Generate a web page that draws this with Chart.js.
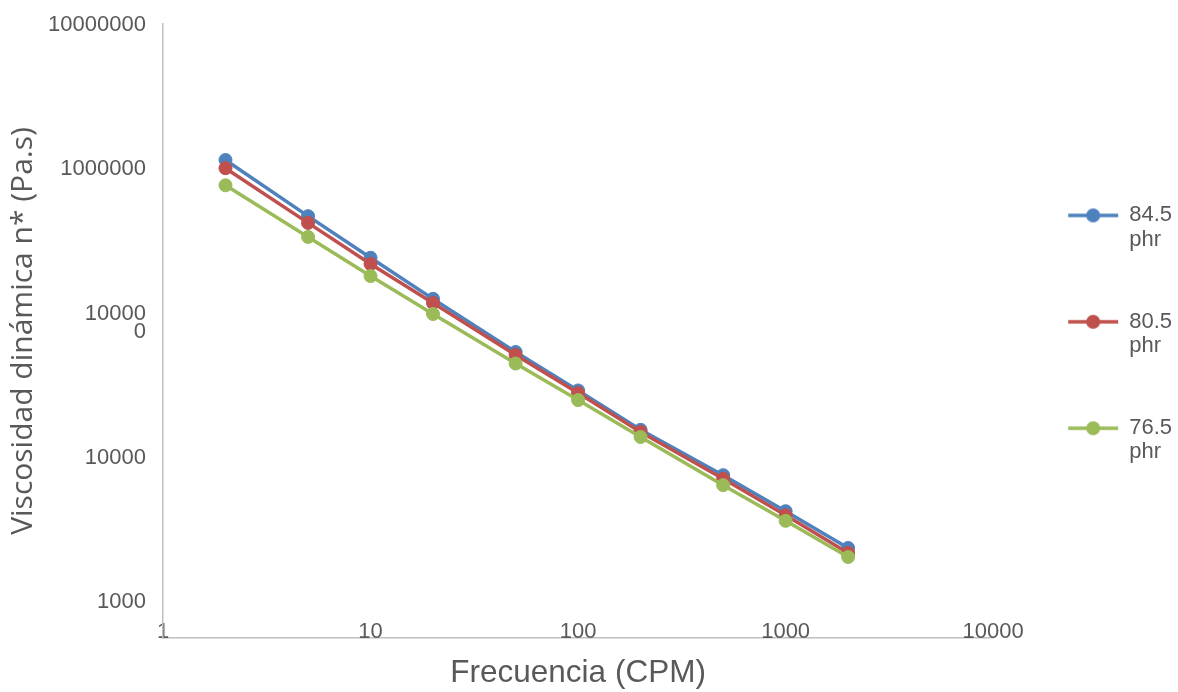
<!DOCTYPE html>
<html lang="es">
<head>
  <meta charset="UTF-8">
  <title>Viscosidad dinámica vs frecuencia</title>
  <script src="https://cdn.jsdelivr.net/npm/chart.js"></script>
  <style>
    body {
      margin: 0;
      background: #ffffff;
    }
    canvas {
      display: block;
    }
  </style>
</head>
<body>

  <canvas id="grafico" width="1178" height="692"></canvas>

  <script>
    // frecuencias medidas (CPM)
    const frecuencias = [2, 5, 10, 20, 50, 100, 200, 500, 1000, 2000];

    // viscosidad dinámica n* (Pa.s) por formulación
    const visc845 = [1300000, 560000, 300000, 162000, 73000, 41000, 22700, 11500, 6700, 3860];
    const visc805 = [1150000, 506000, 273000, 152000, 69800, 39400, 22000, 10900, 6300, 3580];
    const visc765 = [890000, 410000, 228000, 129000, 61400, 35500, 20400, 9900, 5800, 3370];

    const series = ['84.5 phr', '80.5 phr', '76.5 phr'];
    const colores = ['#4f81bd', '#c0504d', '#9bbb59'];

    // marcas de los ejes
    const xTicks = [1, 10, 100, 1000, 10000];
    const xTickLabels = ['1', '10', '100', '1000', '10000'];
    const yTicks = [1000, 10000, 100000, 1000000, 10000000];
    const yTickLabels = ['1000', '10000', '10000\n0', '1000000', '10000000'];

    const gris = '#595959';
    const fuente = "'Liberation Sans', Arial, sans-serif";

    // icono de leyenda: trazo con marcador redondo en medio
    function iconoLeyenda(color) {
      const c = document.createElement('canvas');
      c.width = 75;
      c.height = 18;
      const g = c.getContext('2d');
      g.strokeStyle = color;
      g.lineWidth = 3.5;
      g.beginPath();
      g.moveTo(21, 9);
      g.lineTo(71, 9);
      g.stroke();
      g.fillStyle = color;
      g.beginPath();
      g.arc(46, 9, 7, 0, Math.PI * 2);
      g.fill();
      return c;
    }

    const datos = [visc845, visc805, visc765];
    const datasets = datos.map((vals, i) => ({
      label: series[i],
      data: frecuencias.map((f, k) => ({ x: f, y: vals[k] })),
      borderColor: colores[i],
      backgroundColor: colores[i],
      pointBackgroundColor: colores[i],
      pointBorderColor: colores[i],
      borderWidth: 3.5,
      pointRadius: 6.5,
      pointBorderWidth: 1,
      tension: 0,
      order: datos.length - i // la última serie queda encima
    }));

    const etiquetasBase = Chart.defaults.plugins.legend.labels.generateLabels;

    new Chart(document.getElementById('grafico'), {
      type: 'line',
      data: { datasets },
      options: {
        responsive: false,
        animation: false,
        layout: {
          padding: { top: 24, left: 0, right: -4, bottom: 0 }
        },
        plugins: {
          tooltip: { enabled: false },
          legend: {
            position: 'right',
            fullSize: false,
            // título vacío: solo baja un poco el bloque de la leyenda
            title: { display: true, text: '', font: { size: 0 }, padding: { top: 8, bottom: 0 } },
            labels: {
              usePointStyle: true,
              pointStyleWidth: 67,
              padding: 58,
              color: gris,
              font: { family: fuente, size: 22, lineHeight: 1.1 },
              sort: (a, b) => a.datasetIndex - b.datasetIndex,
              generateLabels: chart => etiquetasBase(chart).map(item => ({
                ...item,
                text: item.text.split(' '),
                pointStyle: iconoLeyenda(item.strokeStyle)
              }))
            }
          }
        },
        scales: {
          x: {
            type: 'logarithmic',
            min: 1,
            max: 10000,
            afterBuildTicks: axis => { axis.ticks = xTicks.map(v => ({ value: v })); },
            afterFit: axis => { axis.height = 54; },
            grid: { display: false, drawTicks: false },
            border: { display: true, color: '#bfbfbf', width: 1.5 },
            ticks: {
              autoSkip: false,
              maxRotation: 0,
              mirror: true, // números apoyados sobre la línea del eje
              padding: -7,
              color: gris,
              font: { family: fuente, size: 22 },
              callback: (v, i) => xTickLabels[i]
            },
            title: {
              display: true,
              text: 'Frecuencia (CPM)',
              color: gris,
              font: { family: fuente, size: 31.5 },
              padding: { top: 10, bottom: 0 }
            }
          },
          y: {
            type: 'logarithmic',
            min: 1000,
            max: 10000000,
            afterBuildTicks: axis => { axis.ticks = yTicks.map(v => ({ value: v })); },
            afterFit: axis => {
              axis.width = 163;
              axis.paddingTop = 0;
              axis.paddingBottom = 0;
            },
            grid: { display: false, drawTicks: false },
            border: { display: true, color: '#bfbfbf', width: 1.5 },
            ticks: {
              padding: 17,
              labelOffset: 1,
              color: gris,
              font: { family: fuente, size: 22, lineHeight: 0.84 },
              // líneas vacías al final: cuanto más abajo, más sube el texto sobre su marca
              callback: (v, i) => {
                const lineas = yTickLabels[i].split('\n');
                const subir = yTicks.length - 1 - i;
                return lineas.concat(Array(subir + 1 - lineas.length).fill(''));
              }
            },
            title: {
              display: true,
              text: 'Viscosidad dinámica n* (Pa.s)',
              color: gris,
              font: { family: "'Open Sans', sans-serif", size: 30 },
              padding: { top: 5, bottom: 7 }
            }
          }
        }
      }
    });
  </script>

</body>
</html>
